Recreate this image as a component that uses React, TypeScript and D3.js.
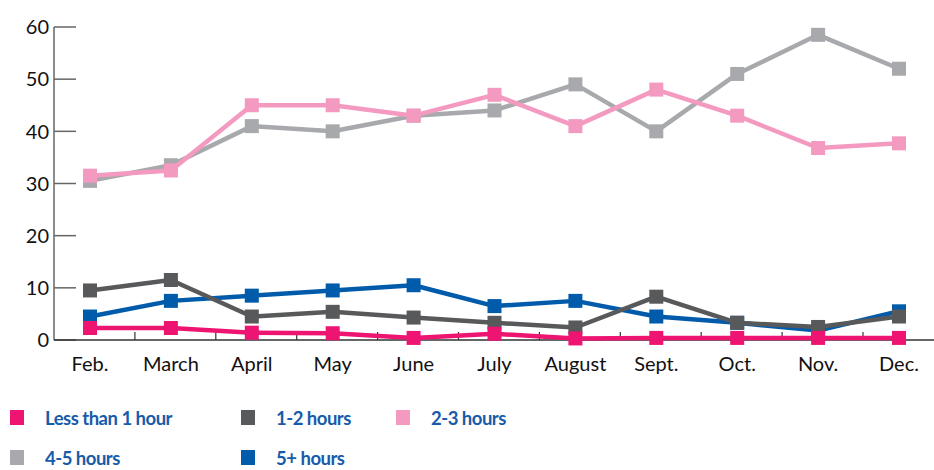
import React from 'react';
import * as d3 from 'd3';

const months = ['Feb.', 'March', 'April', 'May', 'June', 'July', 'August', 'Sept.', 'Oct.', 'Nov.', 'Dec.'];
const yTicks = [0, 10, 20, 30, 40, 50, 60];

const lessThan1 = [2.3, 2.3, 1.4, 1.3, 0.4, 1.2, 0.3, 0.4, 0.4, 0.4, 0.4];
const hours1to2 = [9.5, 11.5, 4.5, 5.4, 4.3, 3.3, 2.4, 8.3, 3.3, 2.5, 4.5];
const hours2to3 = [31.5, 32.5, 45, 45, 43, 47, 41, 48, 43, 36.8, 37.7];
const hours4to5 = [30.5, 33.5, 41, 40, 43, 44, 49, 40, 51, 58.5, 52];
const hours5plus = [4.5, 7.5, 8.5, 9.5, 10.5, 6.5, 7.5, 4.5, 3.3, 1.8, 5.5];

interface Series {
  name: string;
  values: number[];
  color: string;
}

const series: Series[] = [
  { name: 'Less than 1 hour', values: lessThan1, color: '#ED1472' },
  { name: '1-2 hours', values: hours1to2, color: '#58595B' },
  { name: '2-3 hours', values: hours2to3, color: '#F49AC1' },
  { name: '4-5 hours', values: hours4to5, color: '#A7A9AC' },
  { name: '5+ hours', values: hours5plus, color: '#005BAA' },
];

// drawing order: later ones on top
const drawOrder = [4, 3, 2, 1, 0];

const W = 934;
const H = 470;

const App: React.FC = () => {
  const y = d3.scaleLinear().domain([0, 60]).range([340, 27]);
  const x = d3.scalePoint<string>().domain(months).range([90, 899]);
  // category bands for the tick marks
  const band = d3.scaleBand<string>().domain(months).range([54, 54 + 11 * x.step()]);

  const line = d3.line<number>()
    .x((_, i) => x(months[i]) as number)
    .y(d => y(d));

  const legendPos = [
    { x: 10, y: 410 },
    { x: 241, y: 410 },
    { x: 396, y: 410 },
    { x: 10, y: 450 },
    { x: 241, y: 450 },
  ];

  const ms = 14;

  return (
    <svg width={W} height={H} style={{ position: 'fixed', left: 0, top: 0, background: '#fff' }}
      fontFamily="Lato, 'Open Sans', sans-serif">
      {/* y axis */}
      <line x1={54} x2={54} y1={y(60)} y2={y(0)} stroke="#666" strokeWidth={1.5} />
      {yTicks.map(t => (
        <g key={t}>
          <line x1={54} x2={76} y1={y(t)} y2={y(t)} stroke="#666" strokeWidth={1.5} />
          <text x={49} y={y(t)} dy="0.36em" textAnchor="end" fontSize={20} fill="#111">{t}</text>
        </g>
      ))}
      {/* x axis */}
      <line x1={54} x2={W} y1={y(0)} y2={y(0)} stroke="#333" strokeWidth={1.5} />
      {months.slice(1).map(m => (
        <line key={m} x1={band(m)} x2={band(m)} y1={y(0) - 8} y2={y(0)} stroke="#333" strokeWidth={1.2} />
      ))}
      {months.map(m => (
        <text key={m} x={x(m)} y={371} textAnchor="middle" fontSize={20} fill="#111">{m}</text>
      ))}

      {/* series */}
      {drawOrder.map(i => {
        const s = series[i];
        return (
          <g key={s.name}>
            <path d={line(s.values) || ''} fill="none" stroke={s.color} strokeWidth={4.5} strokeLinejoin="round" />
            {s.values.map((v, j) => (
              <rect key={j} x={(x(months[j]) as number) - ms / 2} y={y(v) - ms / 2}
                width={ms} height={ms} fill={s.color} />
            ))}
          </g>
        );
      })}

      {/* legend */}
      {series.map((s, i) => (
        <g key={s.name} transform={`translate(${legendPos[i].x},${legendPos[i].y})`}>
          <rect x={0} y={0} width={14} height={15} fill={s.color} />
          <text x={35} y={15} fontSize={18.5} fontWeight="bold" letterSpacing={-0.5} fill="#175BAA">{s.name}</text>
        </g>
      ))}
    </svg>
  );
};

export default App;
